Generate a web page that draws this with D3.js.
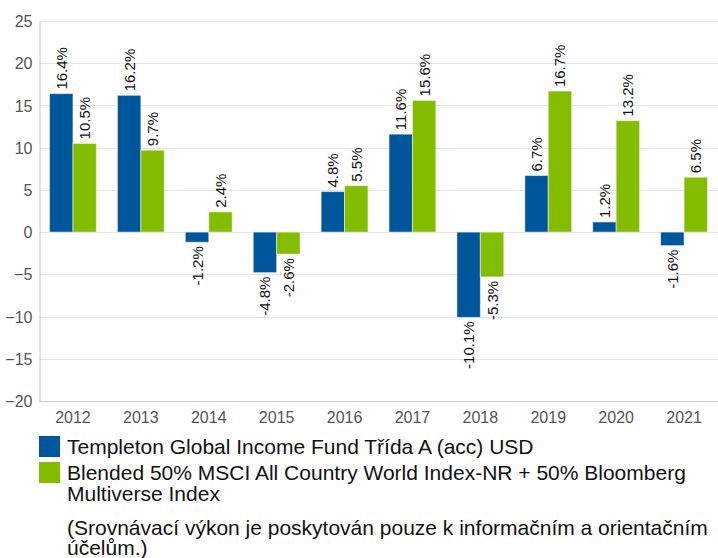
<!DOCTYPE html>
<html lang="en">
<head>
<meta charset="utf-8">
<style>
  body { margin: 0; background: #fff; }
  svg { font-family: "Liberation Sans", Arial, sans-serif; }
  .tick text { fill: #555; }
  .legend_text { font-size: 21px; fill: #111; }
  .val_text { font-size: 15px; fill: #111; }
</style>
</head>
<body>
<div id="graph"></div>
<script src="https://cdn.jsdelivr.net/npm/d3@7"></script>
<script>
var years = ["2012", "2013", "2014", "2015", "2016", "2017", "2018", "2019", "2020", "2021"];
var fund = [16.4, 16.2, -1.2, -4.8, 4.8, 11.6, -10.1, 6.7, 1.2, -1.6];
var blended = [10.5, 9.7, 2.4, -2.6, 5.5, 15.6, -5.3, 16.7, 13.2, 6.5];
var yTicks = [25, 20, 15, 10, 5, 0, -5, -10, -15, -20];
var seriesNames = ["Templeton Global Income Fund Třída A (acc) USD",
                   "Blended 50% MSCI All Country World Index-NR + 50% Bloomberg",
                   "Multiverse Index"];
var note = ["(Srovnávací výkon je poskytován pouze k informačním a orientačním",
            "účelům.)"];
var colors = ["#00569a", "#84bd00"];

var width = 718, height = 558;
var plotLeft = 39, plotRight = 718, plotTop = 21, plotBottom = 401;

var svg = d3.select("#graph").append("svg")
    .attr("width", width).attr("height", height);

var x = d3.scaleBand().domain(years).range([plotLeft, plotRight]).paddingInner(0.31).paddingOuter(0.155);
var x1 = d3.scaleBand().domain([0, 1]).range([0, x.bandwidth()]);
var y = d3.scaleLinear().domain([-20, 25]).range([plotBottom, plotTop]);

// grid
svg.append("g").selectAll("line")
    .data(yTicks).enter().append("line")
    .attr("x1", plotLeft).attr("x2", plotRight)
    .attr("y1", function(d) { return Math.round(y(d)) + 0.5; })
    .attr("y2", function(d) { return Math.round(y(d)) + 0.5; })
    .attr("stroke", "#e6e6e6");

// axes
var ya = svg.append("g")
    .attr("transform", "translate(" + (plotLeft + 0.5) + ",0)")
    .call(d3.axisLeft(y).tickValues(yTicks).tickSize(0).tickPadding(7));
ya.select(".domain").attr("stroke", "#cccccc");
ya.selectAll("text").style("font-size", "16px").attr("dy", "0.35em");

var xa = svg.append("g")
    .attr("transform", "translate(0," + plotBottom + ")")
    .call(d3.axisBottom(x).tickSize(0).tickPadding(11));
xa.select(".domain").attr("stroke", "#cccccc").attr("d", "M" + plotLeft + ",0.5H" + plotRight);
xa.selectAll("text").style("font-size", "16px");

// bars
var data = [];
years.forEach(function(yr, i) {
  data.push({year: yr, s: 0, v: fund[i]});
  data.push({year: yr, s: 1, v: blended[i]});
});

svg.append("g").selectAll("rect")
    .data(data).enter().append("rect")
    .attr("x", function(d) { return x(d.year) + x1(d.s); })
    .attr("width", x1.bandwidth())
    .attr("y", function(d) { return y(Math.max(0, d.v)); })
    .attr("height", function(d) { return Math.abs(y(d.v) - y(0)); })
    .attr("fill", function(d) { return colors[d.s]; })
    .attr("stroke", "#ffffff")
    .attr("stroke-opacity", 0.5)
    .attr("stroke-width", 1);

svg.append("g").selectAll("text")
    .data(data).enter().append("text")
    .attr("class", "val_text")
    .attr("transform", function(d) {
      var cx = x(d.year) + x1(d.s) + x1.bandwidth() / 2 + 5.5;
      var cy = d.v >= 0 ? y(d.v) - 4 : y(d.v) + 4;
      return "translate(" + cx + "," + cy + ") rotate(-90)";
    })
    .attr("text-anchor", function(d) { return d.v >= 0 ? "start" : "end"; })
    .text(function(d) { return d.v.toFixed(1) + "%"; });

// legend
var lg = svg.append("g");
lg.append("rect").attr("x", 39).attr("y", 436).attr("width", 21).attr("height", 21).attr("fill", colors[0]);
lg.append("rect").attr("x", 39).attr("y", 462).attr("width", 21).attr("height", 21).attr("fill", colors[1]);
lg.append("text").attr("class", "legend_text").attr("x", 67).attr("y", 454).text(seriesNames[0]);
lg.append("text").attr("class", "legend_text").attr("x", 67).attr("y", 480).text(seriesNames[1]);
lg.append("text").attr("class", "legend_text").attr("x", 67).attr("y", 501).text(seriesNames[2]);
lg.append("text").attr("class", "legend_text").attr("x", 67).attr("y", 535).text(note[0]);
lg.append("text").attr("class", "legend_text").attr("x", 67).attr("y", 555).text(note[1]);
</script>
</body>
</html>
